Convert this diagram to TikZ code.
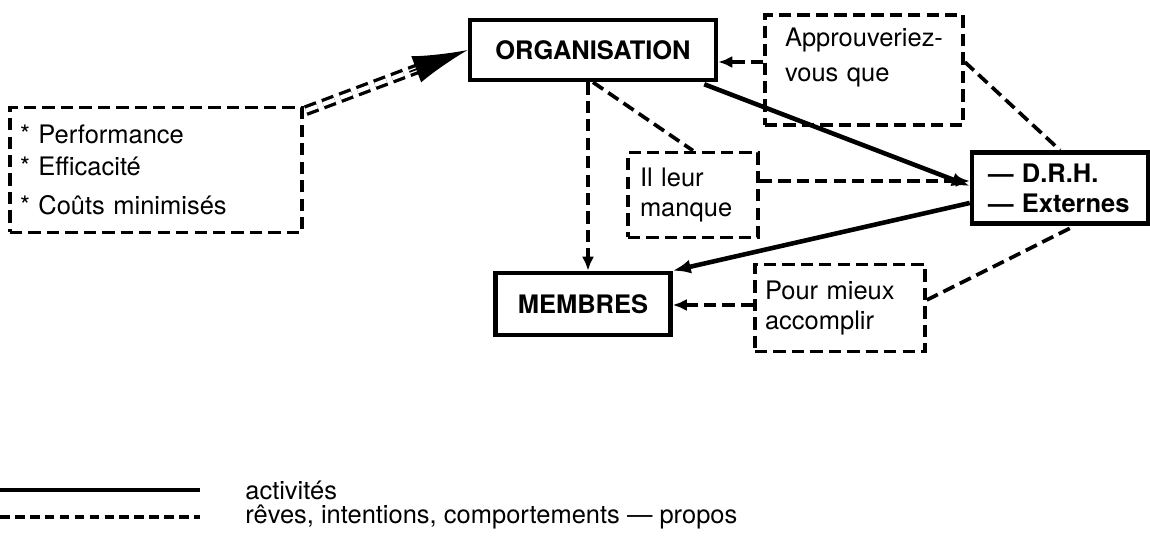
\documentclass[tikz,border=0pt]{standalone}
\usepackage{fontspec}
\setmainfont{TeX Gyre Heros}
\usetikzlibrary{arrows.meta,calc}

\tikzset{
  txt/.style={font=\fontsize{14.5}{17}\selectfont},
  mainbox/.style={draw, line width=2.6pt, font=\fontsize{14.5}{17}\selectfont\bfseries},
  dashbox/.style={draw, line width=2.1pt, dash pattern=on 7pt off 3.5pt, align=left, inner ysep=0pt, txt},
  dashline/.style={line width=2.1pt, dash pattern=on 7pt off 3.5pt},
  dasharrow/.style={dashline, -{Latex[length=2.8mm,width=2.4mm]}},
  solidarrow/.style={line width=2.6pt, -{Latex[length=3.6mm,width=2.8mm]}},
  doubledash/.style={dashline, line width=1.9pt, double distance=2.4pt},
  bigtip/.style={line width=1pt, -{Latex[length=11mm,width=5.6mm]}},
}

\begin{document}
\begin{tikzpicture}[x=0.02cm, y=-0.02cm]
  \useasboundingbox (0,0) rectangle (1150,550);

  % boxes
  \node[dashbox, text width=5.44cm, minimum height=2.5cm, inner xsep=0.2cm] (perf) at (156,170)
    {* Performance\\[1pt] * Efficacité\\[5pt] * Coûts minimisés};
  \node[mainbox, minimum width=4.92cm, minimum height=1.2cm] (org) at (593,50) {ORGANISATION};
  \node[dashbox, text width=3.16cm, minimum height=2.2cm, inner xsep=0.4cm] (appr) at (864,70)
    {Approuveriez-\\[3pt] vous que\\ \mbox{}};
  \node[mainbox, align=left, text width=2.88cm, minimum height=1.42cm, inner xsep=0.32cm] (drh) at (1060,188)
    {— D.R.H.\\ — Externes};
  \node[dashbox, text width=2.12cm, minimum height=1.7cm, inner xsep=0.24cm] (manque) at (693,195)
    {Il leur\\ manque};
  \node[mainbox, minimum width=3.5cm, minimum height=1.24cm] (membres) at (583,304) {MEMBRES};
  \node[dashbox, text width=3cm, minimum height=1.74cm, inner xsep=0.2cm] (pour) at (840,308)
    {Pour mieux\\ accomplir};

  % connectors
  \coordinate (p1) at ($(perf.north east)+(2,5)$);
  \draw[doubledash, shorten >=1cm] (p1) -- (org.west);
  \draw[bigtip] ($(p1)!0.64!(org.west)$) -- (org.west);

  \draw[dasharrow] ($(appr.west)+(0,-8)$) -- ($(org.east)+(0,12)$);
  \draw[dashline] ($(appr.east)+(0,-8)$) -- (drh.north);
  \draw[solidarrow] ($(org.south east)+(-14,2)$) -- ($(drh.west)+(0,-2)$);
  \draw[dashline] (org.south) -- (manque.north);
  \draw[dasharrow] ($(org.south)+(-5,0)$) -- ($(membres.north)+(5,0)$);
  \draw[dasharrow] ($(manque.east)+(0,-14)$) -- ($(drh.west)+(0,-7)$);
  \draw[solidarrow] ($(drh.west)+(0,15)$) -- (membres.north east);
  \draw[dasharrow] ($(pour.west)+(0,-3)$) -- ($(membres.east)+(0,1)$);
  \draw[dashline] ($(pour.east)+(0,-8)$) -- ($(drh.south)+(15,0)$);

  % legend
  \draw[line width=2.8pt] (0,490) -- (200,490);
  \draw[line width=2.4pt, dash pattern=on 5.5pt off 3pt] (0,517) -- (200,517);
  \node[txt, anchor=west, inner sep=0pt] (lact) at (245,490) {activités};
  \node[txt, anchor=west, inner sep=0pt] (lrev) at (245,517) {rêves, intentions, comportements — propos};

\end{tikzpicture}
\end{document}
